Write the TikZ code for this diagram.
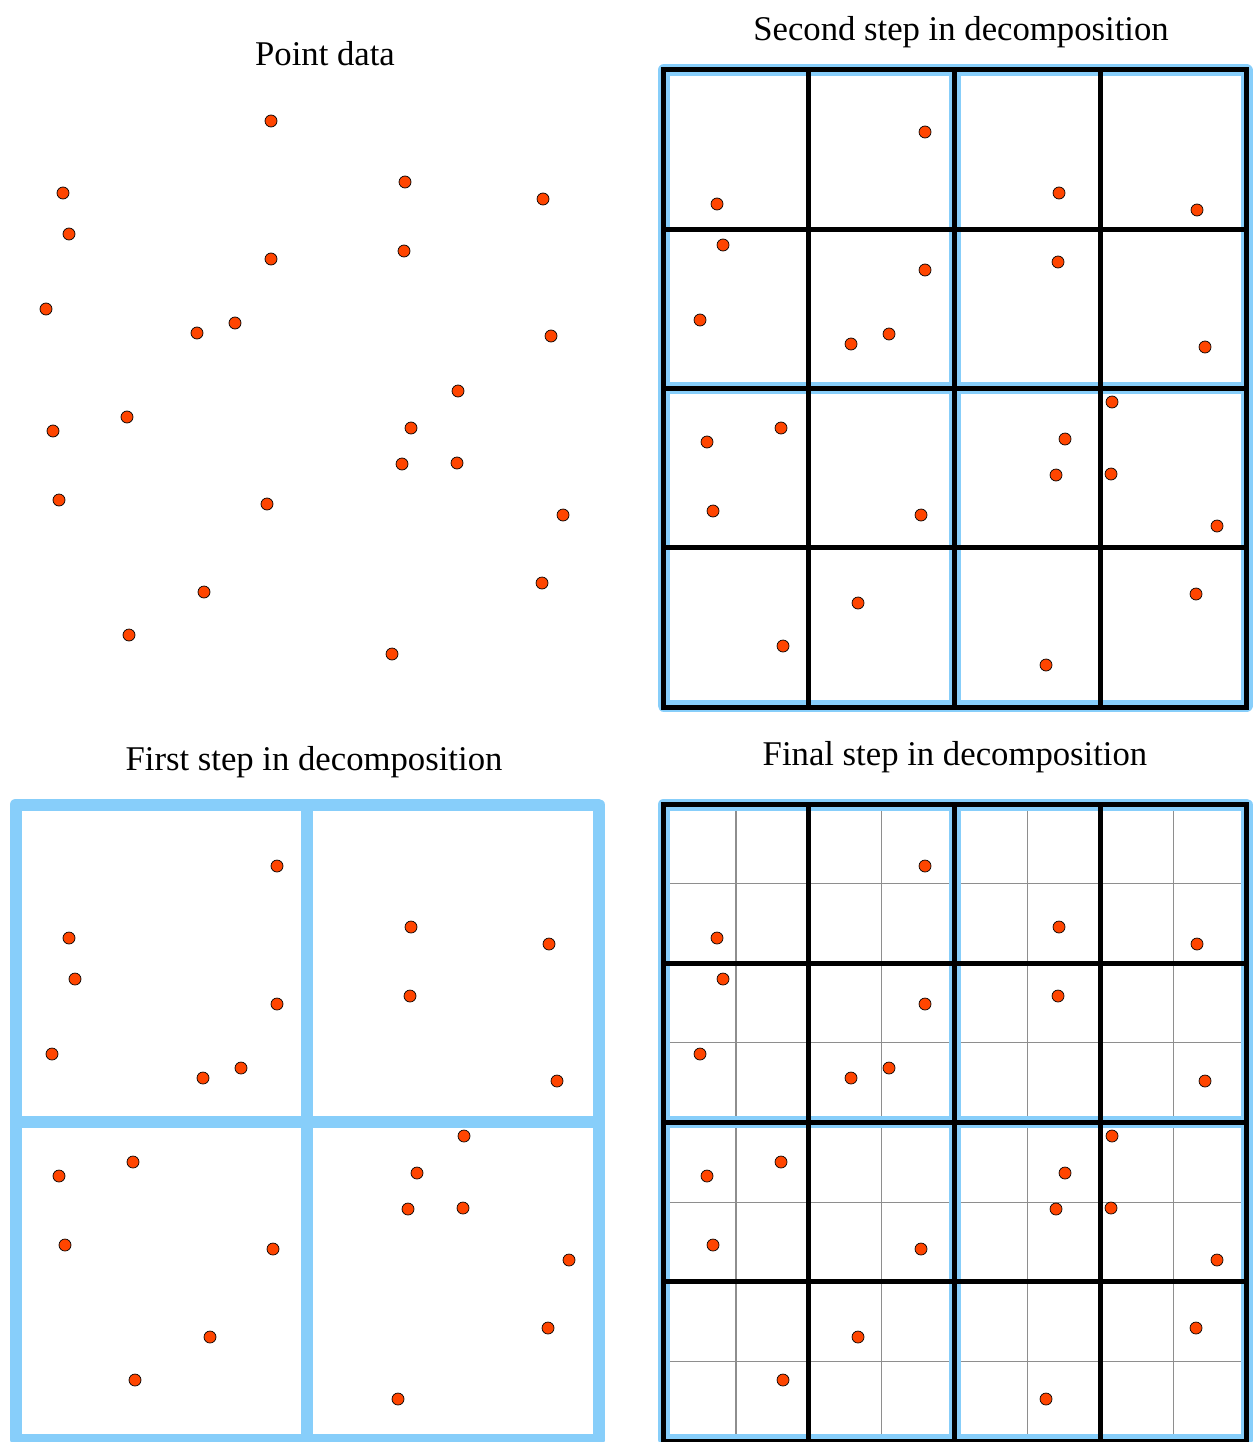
\documentclass[tikz,border=0pt]{standalone}
\usepackage{fontspec}
\setmainfont{Liberation Serif}
\definecolor{colQuad}{HTML}{87CEFA}
\definecolor{colPoint}{HTML}{FF4500}
\definecolor{colFine}{HTML}{8E8E8E}

% point data, local panel coordinates (same for all four panels)
\newcommand{\pointdata}{271/121, 63/193, 69/234, 405/182, 543/199, 271/259,
  404/251, 46/309, 197/333, 235/323, 551/336, 458/391, 53/431, 127/417,
  411/428, 402/464, 457/463, 59/500, 267/504, 563/515, 204/592, 542/583,
  129/635, 392/654}

\begin{document}
\begin{tikzpicture}[
    x=1pt, y=-1pt,
    font=\fontsize{34.7}{40}\selectfont,
    title/.style={anchor=base, inner sep=0pt},
    quad/.style={draw=colQuad, line width=12pt, line join=round},
    coarse/.style={draw=black, line width=5pt, line cap=rect},
    fine/.style={draw=colFine, line width=1.2pt},
    datapt/.style={circle, draw=black, line width=0.7pt, fill=colPoint,
                   minimum size=12pt, inner sep=0pt},
]
\useasboundingbox (0,0) rectangle (1254,1442);

% ---- Titles ----------------------------------------------------------------
\node[title] (t-data)   at (325,66)  {Point data};
\node[title] (t-second) at (961,41)  {Second step in decomposition};
\node[title] (t-first)  at (314,770) {First step in decomposition};
\node[title] (t-final)  at (955,765) {Final step in decomposition};

% ---- Point data ------------------------------------------------------------
\foreach \px/\py [count=\k] in \pointdata
  \node[datapt] (a-\k) at (\px,\py) {};

% ---- First step: 2x2 quadrants ---------------------------------------------
\begin{scope}[shift={(6,745)}]
  \draw[quad] (9.5,59.5) rectangle (592.5,694.5);
  \draw[quad] (300.5,59.5) -- (300.5,694.5);
  \draw[quad] (9.5,376.5) -- (592.5,376.5);
  \foreach \px/\py [count=\k] in \pointdata
    \node[datapt] (b-\k) at (\px,\py) {};
\end{scope}

% ---- Second step: 4x4 cells ------------------------------------------------
\begin{scope}[shift={(654,11)}]
  \draw[quad] (9.5,59.5) rectangle (592.5,694.5);
  \draw[quad] (300.5,59.5) -- (300.5,694.5);
  \draw[quad] (9.5,376.5) -- (592.5,376.5);
  \foreach \i in {0,...,4} {
    \draw[coarse] ({9+\i*145.75},59) -- ({9+\i*145.75},696);
    \draw[coarse] (9,{59+\i*159.25}) -- (592,{59+\i*159.25});
  }
  \foreach \px/\py [count=\k] in \pointdata
    \node[datapt] (c-\k) at (\px,\py) {};
\end{scope}

% ---- Final step: 8x8 cells -------------------------------------------------
\begin{scope}[shift={(654,745)}]
  \foreach \i in {0,...,3} {
    \draw[fine] ({81.9+\i*145.75},65.5) -- ({81.9+\i*145.75},688.5);
    \draw[fine] (15.5,{138.6+\i*159.25}) -- (586.5,{138.6+\i*159.25});
  }
  \draw[quad] (9.5,59.5) rectangle (592.5,694.5);
  \draw[quad] (300.5,59.5) -- (300.5,694.5);
  \draw[quad] (9.5,376.5) -- (592.5,376.5);
  \foreach \i in {0,...,4} {
    \draw[coarse] ({9+\i*145.75},59) -- ({9+\i*145.75},696);
    \draw[coarse] (9,{59+\i*159.25}) -- (592,{59+\i*159.25});
  }
  \foreach \px/\py [count=\k] in \pointdata
    \node[datapt] (d-\k) at (\px,\py) {};
\end{scope}

\end{tikzpicture}
\end{document}
